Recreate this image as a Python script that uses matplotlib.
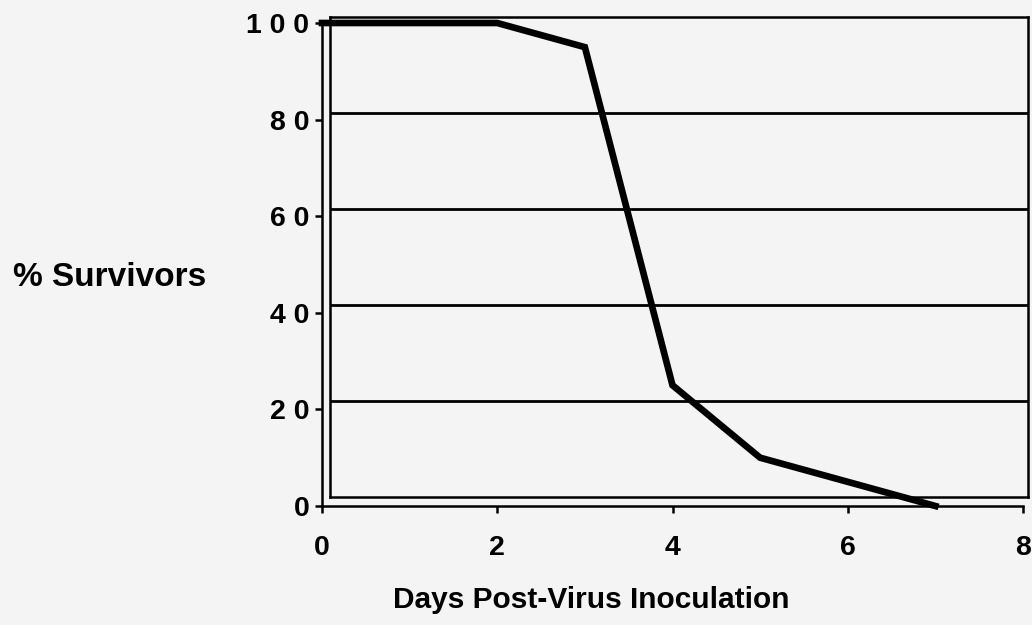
import matplotlib.pyplot as plt

days = [0, 1, 2, 3, 4, 5, 6, 7]
survivors = [100, 100, 100, 95, 25, 10, 5, 0]
x_ticks = [0, 2, 4, 6, 8]
y_ticks = [0, 20, 40, 60, 80, 100]
y_tick_labels = ["0", "2 0", "4 0", "6 0", "8 0", "1 0 0"]

W, H = 1032, 625
plt.rcParams["font.family"] = ["Liberation Sans", "DejaVu Sans"]
plt.rcParams["font.weight"] = "bold"

fig = plt.figure(figsize=(W / 100, H / 100), dpi=100, facecolor="#f4f4f4")

# inner plot-area frame with gridlines, shifted up/right like the old 3D look
back = fig.add_axes([330 / W, 1 - 497 / H, 698 / W, 480 / H])
back.set(xlim=(0, 8), ylim=(0, 100))
back.patch.set_alpha(0)
for s in back.spines.values():
    s.set_linewidth(1.8)
for v in y_ticks[1:-1]:
    back.axhline(v, color="black", lw=2.0)
back.set_xticks([]); back.set_yticks([])

ax = fig.add_axes([322 / W, 1 - 506 / H, 701 / W, 483 / H])
ax.patch.set_alpha(0)
ax.set(xlim=(0, 8), ylim=(0, 100))
ax.plot(days, survivors, color="black", lw=4.8, solid_joinstyle="miter", clip_on=False)
for side in ("top", "right"):
    ax.spines[side].set_visible(False)
for side in ("left", "bottom"):
    ax.spines[side].set_linewidth(1.8)
ax.set_xticks(x_ticks)
ax.set_xticklabels([str(t) for t in x_ticks], fontsize=20.5, fontweight="bold")
ax.set_yticks(y_ticks)
ax.set_yticklabels(y_tick_labels, fontsize=20.5, fontweight="bold")
ax.tick_params(axis="x", length=5, width=1.8, pad=16)
ax.tick_params(axis="y", length=5, width=1.8, pad=4)

fig.text(13 / W, 1 - 278 / H, "% Survivors", fontsize=24, fontweight="bold", ha="left", va="center")
fig.text(591 / W, 1 - 600 / H, "Days Post-Virus Inoculation", fontsize=21.5, fontweight="bold", ha="center", va="center")

fig.savefig("out.png", dpi=100, facecolor=fig.get_facecolor())
